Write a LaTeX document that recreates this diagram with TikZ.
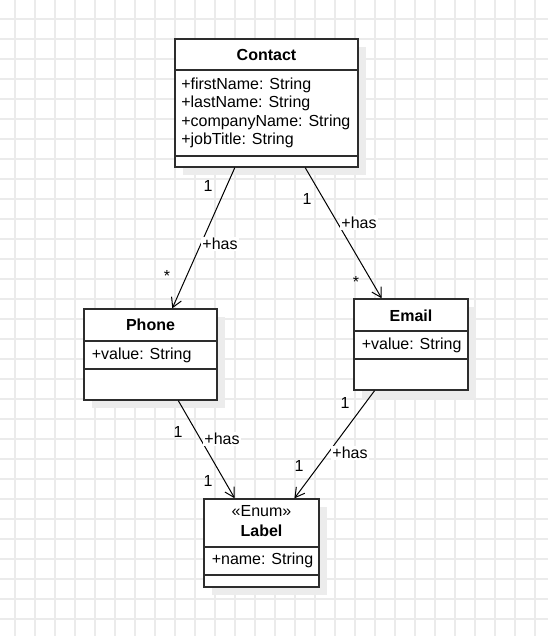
\documentclass[tikz,border=0pt]{standalone}
\usepackage{fontspec}
\setmainfont{Liberation Sans}
\usetikzlibrary{arrows.meta,fit,calc,shadows}
\definecolor{gridc}{RGB}{235,235,235}
\definecolor{shadc}{RGB}{236,236,236}
\definecolor{linec}{RGB}{45,45,45}
\begin{document}
\begin{tikzpicture}[x=0.75pt,y=-0.75pt,
  every node/.style={font=\fontsize{12pt}{13.9pt}\selectfont, text=black},
  cls/.style={draw=linec, line width=1pt, fill=white, inner sep=0pt,
    drop shadow={shadow xshift=6pt, shadow yshift=-6pt, opacity=1, fill=shadc}},
  sep/.style={draw=linec, line width=1pt},
  title/.style={anchor=base, inner sep=0pt, font=\fontsize{12pt}{13.9pt}\selectfont\bfseries},
  stereo/.style={anchor=base, inner sep=0pt},
  attr/.style={anchor=base west, inner sep=0pt},
  assoc/.style={draw=black, line width=0.75pt, -{Straight Barb[length=7pt,width=8pt]}},
  mult/.style={inner sep=1pt},
  role/.style={fill=white, inner sep=1pt},
]
\useasboundingbox (0,0) rectangle (548,636);
\fill[white] (0,0) rectangle (548,636);
% grid
\begin{scope}
\clip (0,0) rectangle (548,636);
\foreach \x in {15,35,...,548} \draw[gridc, line width=1pt] (\x,0) -- (\x,636);
\foreach \y in {19,39,...,636} \draw[gridc, line width=1pt] (0,\y) -- (548,\y);
\end{scope}

% classes
\node[cls, fit={(175,39) (358,167)}] (contact) {};
\draw[sep] (175,70) -- (358,70);
\draw[sep] (175,156) -- (358,156);
\node[title] (contactT) at (266.5,60.5) {Contact};
\node[attr] (ca1) at (181,89.3) {+firstName: String};
\node[attr] (ca2) at (181,107.8) {+lastName: String};
\node[attr] (ca3) at (181,126.3) {+companyName: String};
\node[attr] (ca4) at (181,144.8) {+jobTitle: String};

\node[cls, fit={(84,309) (217,400)}] (phone) {};
\draw[sep] (84,341) -- (217,341);
\draw[sep] (84,369) -- (217,369);
\node[title] (phoneT) at (150.5,330.3) {Phone};
\node[attr] (pa1) at (91.5,359.3) {+value: String};

\node[cls, fit={(354,299) (468,390)}] (email) {};
\draw[sep] (354,331) -- (468,331);
\draw[sep] (354,359) -- (468,359);
\node[title] (emailT) at (411,321) {Email};
\node[attr] (ea1) at (361.5,349.3) {+value: String};

\node[cls, fit={(204,499) (319,587)}] (label) {};
\draw[sep] (204,547) -- (319,547);
\draw[sep] (204,575) -- (319,575);
\node[stereo] (labelS) at (261.5,516.7) {«Enum»};
\node[title] (labelT) at (261.5,536.7) {Label};
\node[attr] (la1) at (211.5,564.3) {+name: String};

% connectors
\draw[assoc] ($(contact.south west)!0.328!(contact.south east)$) -- ($(phone.north west)!0.662!(phone.north east)$);
\draw[assoc] ($(contact.south west)!0.710!(contact.south east)$) -- ($(email.north west)!0.246!(email.north east)$);
\draw[assoc] ($(phone.south west)!0.707!(phone.south east)$) -- ($(label.north west)!0.27!(label.north east)$);
\draw[assoc] ($(email.south west)!0.184!(email.south east)$) -- ($(label.north west)!0.783!(label.north east)$);

% labels
\node[mult] (m1) at (208,186) {1};
\node[role] (r1) at (220,244) {+has};
\node[mult] (s1) at (167,276) {*};

\node[mult] (m2) at (307,199) {1};
\node[role] (r2) at (359,222.5) {+has};
\node[mult] (s2) at (356,282) {*};

\node[mult] (m3) at (178,432) {1};
\node[role] (r3) at (222,439) {+has};
\node[mult] (m4) at (208,481) {1};

\node[mult] (m5) at (345,403) {1};
\node[role] (r4) at (350,453) {+has};
\node[mult] (m6) at (299,466) {1};
\end{tikzpicture}
\end{document}
